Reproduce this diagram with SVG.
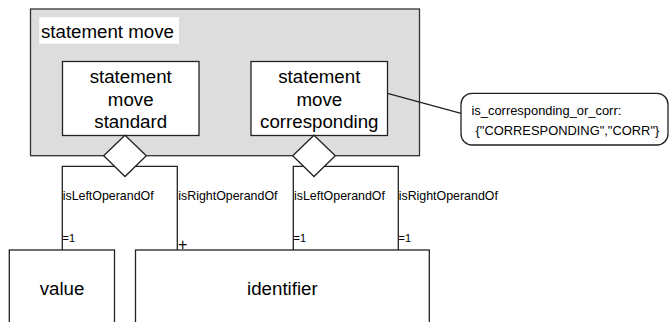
<svg xmlns="http://www.w3.org/2000/svg" width="670" height="322" viewBox="0 0 670 322">
<style>
  .box { fill: #ffffff; stroke: #222222; stroke-width: 1.3; }
  .grp { fill: #dddddd; stroke: #333333; stroke-width: 1.3; }
  .t { font-family: "Liberation Sans", Arial, sans-serif; fill: #000000; }
  .big { font-size: 18.7px; text-anchor: middle; }
  .lbl { font-size: 12.4px; }
  .mult { font-size: 11px; }
  .note { font-size: 12.9px; }
  .conn { fill: none; stroke: #222222; stroke-width: 1.3; }
</style>
<rect width="670" height="322" fill="#ffffff"/>
<g id="statement_move">
  <rect class="grp" x="30.5" y="9" width="389" height="146.7"/>
  <rect x="39.3" y="17.3" width="139.7" height="26.4" fill="#ffffff"/>
  <text class="t" x="41" y="38" style="font-size:18.7px">statement move</text>
</g>
<g id="connectors">
  <path class="conn" d="M125,166.3 H62.3 V250 M125,166.3 H177.3 V250"/>
  <path class="conn" d="M314,166.3 H293.3 V250 M314,166.3 H398.3 V250"/>
  <path class="conn" d="M387.5,93.3 L461,113.3"/>
  <text class="t lbl" x="62.7" y="200">isLeftOperandOf</text>
  <text class="t lbl" x="178.3" y="200">isRightOperandOf</text>
  <text class="t lbl" x="294" y="200">isLeftOperandOf</text>
  <text class="t lbl" x="398.7" y="200">isRightOperandOf</text>
  <text class="t mult" x="62.5" y="241.5">=1</text>
  <text class="t" x="178" y="249.5" style="font-size:16px">+</text>
  <text class="t mult" x="293.5" y="241.5">=1</text>
  <text class="t mult" x="398.5" y="241.5">=1</text>
</g>
<g id="statement_move_standard">
  <rect class="box" x="62.5" y="61.5" width="136.5" height="74"/>
  <text class="t big" x="130.7" y="82.7">statement</text>
  <text class="t big" x="130.7" y="105.5">move</text>
  <text class="t big" x="130.7" y="128.3">standard</text>
  <path class="box" d="M125,135.2 L146.3,155.8 L125,176.5 L103.7,155.8 Z"/>
</g>
<g id="statement_move_corresponding">
  <rect class="box" x="251" y="61.5" width="136.5" height="74"/>
  <text class="t big" x="319.3" y="82.7">statement</text>
  <text class="t big" x="319.3" y="105.5">move</text>
  <text class="t big" x="319.3" y="128.3">corresponding</text>
  <path class="box" d="M314,135.2 L335.3,155.8 L314,176.5 L292.7,155.8 Z"/>
</g>
<g id="note">
  <rect class="box" x="461" y="93.3" width="207" height="51.7" rx="11" ry="11"/>
  <text class="t note" x="471.5" y="115">is_corresponding_or_corr:</text>
  <text class="t note" x="475.5" y="134.5">{"CORRESPONDING","CORR"}</text>
</g>
<g id="value">
  <rect class="box" x="9.3" y="250" width="105.2" height="90"/>
  <text class="t big" x="62" y="295">value</text>
</g>
<g id="identifier">
  <rect class="box" x="135.5" y="250" width="293.8" height="90"/>
  <text class="t big" x="282.4" y="295">identifier</text>
</g>
</svg>
